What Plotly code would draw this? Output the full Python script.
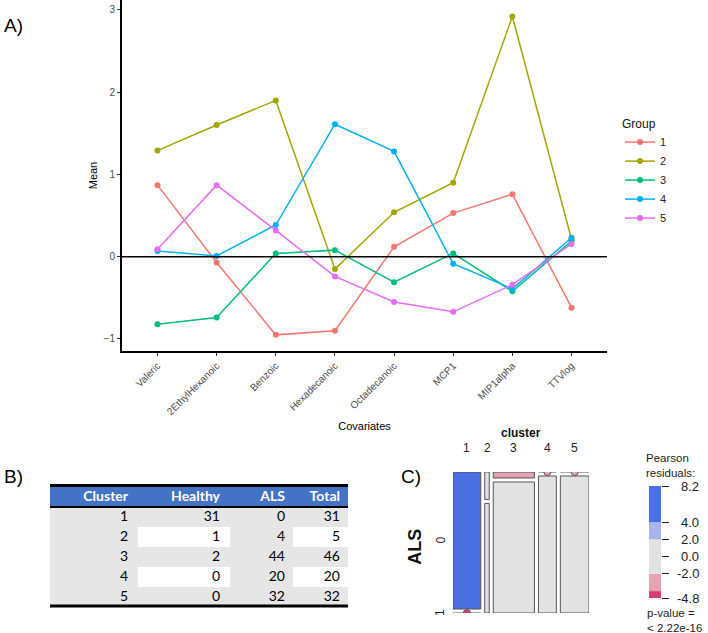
import numpy as np
import plotly.graph_objects as go

# ---------------- data ----------------
covariates = ["Valeric", "2EthylHexanoic", "Benzoic", "Hexadecanoic",
              "Octadecanoic", "MCP1", "MIP1alpha", "TTVlog"]
group1 = [0.87, -0.07, -0.95, -0.90, 0.12, 0.53, 0.76, -0.62]
group2 = [1.29, 1.60, 1.90, -0.15, 0.54, 0.90, 2.92, 0.21]
group3 = [-0.82, -0.74, 0.04, 0.08, -0.31, 0.04, -0.42, 0.19]
group4 = [0.07, 0.01, 0.385, 1.61, 1.28, -0.085, -0.39, 0.23]
group5 = [0.09, 0.87, 0.32, -0.24, -0.55, -0.67, -0.34, 0.155]
group_names = ["1", "2", "3", "4", "5"]
group_colors = ["#F8766D", "#A3A500", "#00BF7D", "#00B0F6", "#E76BF3"]
y_ticks_a = [-1, 0, 1, 2, 3]

clusters = ["1", "2", "3", "4", "5"]
healthy = [31, 1, 2, 0, 0]
als = [0, 4, 44, 20, 32]
totals = [31, 5, 46, 20, 32]
table_header = ["Cluster", "Healthy", "ALS", "Total"]
# cell shading of the table (0 = grey, 1 = white, 2 = blue header)
shade_rows = [[2, 2, 2, 2],
              [0, 0, 0, 0],
              [0, 1, 0, 1],
              [0, 0, 0, 0],
              [0, 1, 0, 1],
              [0, 0, 0, 0]]

resid_breaks = [-4.8, -4.0, -2.0, 2.0, 4.0, 8.2]
resid_colors = ["#D33F6A", "#E3A3B2", "#E2E2E2", "#A9B4EA", "#4A6FE3"]
resid_ticks = [8.2, 4.0, 2.0, 0.0, -2.0, -4.8]

# ---------------- layout helpers ----------------
W, H = 708, 633
def px(x): return x / W
def py(y): return 1 - y / H

SANS = "Liberation Sans, Arial, sans-serif"
TABLE_FONT = "Lato, sans-serif"
fig = go.Figure()

# ---------------- Panel A ----------------
groups = [group1, group2, group3, group4, group5]
for name, vals, col in zip(group_names, groups, group_colors):
    fig.add_trace(go.Scatter(
        x=covariates, y=vals, name=name, mode="lines+markers",
        line=dict(color=col, width=1.5), marker=dict(color=col, size=6),
        xaxis="x", yaxis="y", showlegend=True))

fig.add_shape(type="line", xref="x domain", yref="y", x0=0, x1=1, y0=0, y1=0,
              line=dict(color="black", width=1.6))

# ---------------- Panel B (table) ----------------
col_edges = [50, 138, 230, 293, 348]       # pixel layout of columns
row_edges = [487, 507, 527, 547, 567, 587, 607]
text_right = [128, 220, 285, 340]
row_mid = [(row_edges[k] + row_edges[k + 1]) / 2 for k in range(len(row_edges) - 1)]

fig.add_trace(go.Heatmap(
    z=shade_rows, x=col_edges, y=row_edges, zmin=0, zmax=2,
    colorscale=[[0, "#E6E6E6"], [0.5, "#FFFFFF"], [1, "#4472C4"]],
    showscale=False, hoverinfo="skip", xaxis="x5", yaxis="y5"))

fig.add_trace(go.Scatter(
    x=text_right, y=[row_mid[0]] * 4, mode="text",
    text=["<b>%s</b>" % h for h in table_header], textposition="middle left",
    textfont=dict(color="white", size=14, family=TABLE_FONT),
    xaxis="x5", yaxis="y5", showlegend=False, hoverinfo="skip"))
body_cols = [clusters, healthy, als, totals]
for j, colvals in enumerate(body_cols):
    fig.add_trace(go.Scatter(
        x=[text_right[j]] * len(colvals), y=row_mid[1:], mode="text",
        text=[str(v) for v in colvals], textposition="middle left",
        textfont=dict(color="black", size=14, family=TABLE_FONT),
        xaxis="x5", yaxis="y5", showlegend=False, hoverinfo="skip"))

for yy, lw in [(485.5, 3), (507, 2), (606, 3)]:
    fig.add_shape(type="line", xref="x5", yref="y5", x0=col_edges[0], x1=col_edges[-1],
                  y0=yy, y1=yy, line=dict(color="black", width=lw))

# ---------------- Panel C (mosaic) ----------------
N = sum(totals)
col_h = sum(healthy)
col_a = sum(als)
gx = 4 / 136
gy = 4 / 141
unit = (1 - gx * (len(clusters) - 1)) / N
avail = 1 - gy

def res_color(r):
    for k in range(len(resid_colors)):
        if r <= resid_breaks[k + 1] or k == len(resid_colors) - 1:
            return resid_colors[k]
    return resid_colors[-1]

EDGE = "#555555"
xpos = 0.0
centers = []
label_y = {}
for i, c in enumerate(clusters):
    w = totals[i] * unit
    x0, x1 = xpos, xpos + w
    centers.append((x0 + x1) / 2)
    hh = avail * healthy[i] / totals[i]
    cells = [
        (healthy[i], totals[i] * col_h / N, 1 - hh, 1.0, 1.0),       # ALS = 0
        (als[i], totals[i] * col_a / N, 0.0, avail - hh, 0.0),        # ALS = 1
    ]
    for j, (obs, exp, y0, y1, yz) in enumerate(cells):
        r = (obs - exp) / np.sqrt(exp)
        colr = res_color(r)
        if obs > 0:
            fig.add_trace(go.Scatter(
                x=[x0, x1, x1, x0, x0], y=[y0, y0, y1, y1, y0], mode="lines",
                fill="toself", fillcolor=colr, line=dict(color=EDGE, width=1),
                xaxis="x3", yaxis="y3", showlegend=False, hoverinfo="skip"))
            if i == 0:
                label_y[j] = (y0 + y1) / 2
        else:
            fig.add_trace(go.Scatter(
                x=[x0, x1], y=[yz, yz], mode="lines", line=dict(color=EDGE, width=1),
                xaxis="x3", yaxis="y3", showlegend=False, hoverinfo="skip"))
            fig.add_trace(go.Scatter(
                x=[(x0 + x1) / 2], y=[yz], mode="markers",
                marker=dict(color=colr, size=7, line=dict(color=EDGE, width=1)),
                xaxis="x3", yaxis="y3", showlegend=False, hoverinfo="skip"))
            if i == 0:
                label_y[j] = yz
    xpos = x1 + gx

# colour legend bars
for k, colr in enumerate(resid_colors):
    lo, hi = resid_breaks[k], resid_breaks[k + 1]
    fig.add_trace(go.Bar(x=[0], y=[hi - lo], base=[lo], width=1,
                         marker=dict(color=colr, line=dict(width=0)),
                         xaxis="x4", yaxis="y4", showlegend=False, hoverinfo="skip"))

annotations = []
for v in resid_ticks:
    annotations.append(dict(text="%.1f" % v, xref="paper", yref="y4", x=px(701), y=v,
                             xanchor="right", yanchor="middle", showarrow=False,
                             font=dict(size=13, family=SANS, color="#222")))
for c, xc in zip(clusters, centers):
    annotations.append(dict(text=c, xref="x3", yref="paper", x=xc, y=py(457),
                            showarrow=False, font=dict(size=12, family=SANS, color="#222")))

def left_text(t, x, y, size=11.5):
    return dict(text=t, xref="paper", yref="paper", x=px(x), y=py(y), xanchor="left",
                yanchor="middle", align="left", showarrow=False,
                font=dict(size=size, family=SANS, color="#222"))

annotations += [
    dict(text="<b>cluster</b>", xref="x3 domain", yref="paper", x=0.5, y=py(442),
         showarrow=False, font=dict(size=12, family=SANS, color="#111")),
    dict(text="<b>ALS</b>", xref="paper", yref="y3 domain", x=px(415), y=0.47,
         textangle=-90, showarrow=False, font=dict(size=18, family=SANS, color="#111")),
    dict(text="0", xref="paper", yref="y3", x=px(440), y=label_y[0], textangle=-90,
         showarrow=False, font=dict(size=12, family=SANS, color="#222")),
    dict(text="1", xref="paper", yref="y3", x=px(440), y=label_y[1], textangle=-90,
         showarrow=False, font=dict(size=12, family=SANS, color="#222")),
    left_text("Pearson<br>residuals:", 644, 465),
    left_text("p-value =<br>&lt; 2.22e-16", 645, 620),
    dict(text="A)", xref="paper", yref="paper", x=px(2), y=py(25), xanchor="left",
         yanchor="middle", showarrow=False, font=dict(size=19, family=SANS, color="black")),
    dict(text="B)", xref="paper", yref="paper", x=px(2), y=py(476), xanchor="left",
         yanchor="middle", showarrow=False, font=dict(size=19, family=SANS, color="black")),
    dict(text="C)", xref="paper", yref="paper", x=px(399), y=py(476), xanchor="left",
         yanchor="middle", showarrow=False, font=dict(size=19, family=SANS, color="black")),
]

fig.update_layout(
    width=W, height=H, margin=dict(l=0, r=0, t=0, b=0),
    paper_bgcolor="white", plot_bgcolor="rgba(0,0,0,0)",
    font=dict(family=SANS),
    showlegend=True,
    barmode="overlay",
    legend=dict(title=dict(text="Group", font=dict(size=12, color="#111")),
                x=px(620), y=py(112), xanchor="left", yanchor="top",
                font=dict(size=11, color="#222"), itemwidth=30, tracegroupgap=0,
                bgcolor="rgba(0,0,0,0)"),
    xaxis=dict(domain=[px(122), px(607)], range=[-0.6, 7.6], type="category",
               showline=True, linecolor="black", linewidth=2, showgrid=False,
               zeroline=False, ticks="outside", ticklen=3, tickcolor="#333",
               tickangle=-45, tickfont=dict(size=10, color="#4D4D4D"),
               title=dict(text="Covariates", font=dict(size=11, color="black"), standoff=6),
               anchor="y", fixedrange=True),
    yaxis=dict(domain=[py(351), 1.0], range=[-1.146, 3.12],
               showline=True, linecolor="black", linewidth=2, showgrid=False,
               zeroline=False, ticks="outside", ticklen=3, tickcolor="#333",
               tickvals=y_ticks_a, tickfont=dict(size=10, color="#4D4D4D"),
               title=dict(text="Mean", font=dict(size=11, color="black"), standoff=4),
               anchor="x", fixedrange=True),
    xaxis3=dict(domain=[px(453), px(589)], range=[0, 1], visible=False,
                anchor="y3", fixedrange=True),
    yaxis3=dict(domain=[py(613), py(472)], range=[0, 1], visible=False,
                anchor="x3", fixedrange=True),
    xaxis4=dict(domain=[px(649), px(661)], range=[-0.5, 0.5], visible=False,
                anchor="y4", fixedrange=True),
    yaxis4=dict(domain=[py(598), py(486)], range=[-4.8, 8.2], side="right",
                showline=False, showgrid=False, zeroline=False, ticks="outside",
                ticklen=7, tickcolor="#222", tickvals=resid_ticks, showticklabels=False,
                anchor="x4", fixedrange=True),
    xaxis5=dict(domain=[px(50), px(348)], range=[50, 348], visible=False,
                anchor="y5", fixedrange=True),
    yaxis5=dict(domain=[py(610), py(483)], range=[610, 483], visible=False,
                anchor="x5", fixedrange=True),
    annotations=annotations,
)

fig.write_html("out.html", config={"displayModeBar": False},
               post_script="document.body.style.margin='0px';document.body.style.overflow='hidden';")
